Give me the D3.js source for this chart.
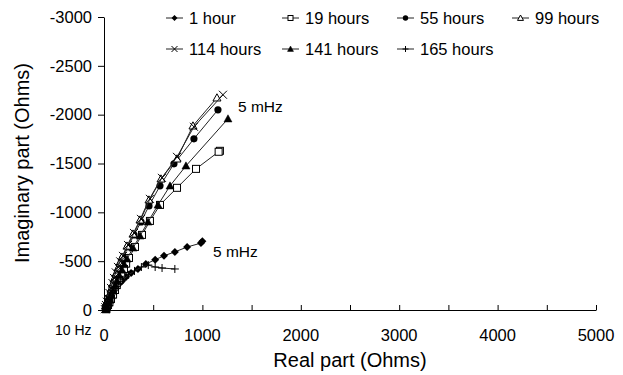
<!DOCTYPE html>
<html>
<head>
<meta charset="utf-8">
<script src="https://cdn.jsdelivr.net/npm/d3@7"></script>
<style>
  body { margin: 0; background: #fff; }
  svg text { font-family: "Liberation Sans", Arial, sans-serif; fill: #000; }
</style>
</head>
<body>
<svg id="chart" width="623" height="375"></svg>
<script>
// Nyquist data: [real, imaginary] in Ohms
var hour1 = [[1000,-705],[985,-685],[845,-645],[720,-595],[610,-555],[520,-515],[425,-470],[345,-420],[275,-380],[225,-340],[185,-300],[160,-278],[140,-255],[125,-235],[110,-215],[95,-195],[80,-175],[70,-155],[60,-135],[50,-112],[40,-90],[30,-70],[22,-50],[15,-30],[10,-12]];
var hour19 = [[1178,-1630],[1165,-1620],[935,-1445],[742,-1251],[569,-1076],[467,-912],[386,-769],[315,-646],[254,-533],[225,-475],[203,-420],[175,-362],[152,-308],[130,-255],[112,-205],[92,-158],[71,-113],[55,-80],[41,-51],[30,-28],[22,-8]];
var hour55 = [[1158,-2050],[914,-1753],[711,-1497],[569,-1271],[457,-1066],[376,-902],[305,-769],[244,-646],[193,-533],[172,-476],[152,-420],[132,-365],[112,-308],[96,-255],[81,-205],[66,-160],[51,-113],[40,-80],[30,-51],[22,-25],[18,-6]];
var hour99 = [[1148,-2173],[904,-1886],[742,-1548],[579,-1343],[457,-1128],[366,-923],[295,-779],[234,-656],[183,-543],[162,-487],[142,-431],[122,-375],[102,-318],[86,-265],[71,-215],[60,-168],[51,-123],[40,-85],[30,-51],[23,-28],[20,-8]];
var hour114 = [[1209,-2204],[914,-1876],[742,-1568],[589,-1353],[467,-1138],[376,-933],[305,-789],[244,-666],[193,-554],[165,-498],[142,-441],[120,-385],[102,-328],[86,-276],[71,-226],[55,-175],[41,-123],[30,-85],[20,-51],[14,-28],[10,-8]];
var hour141 = [[1260,-1958],[833,-1476],[671,-1271],[549,-1076],[447,-902],[366,-759],[295,-636],[234,-523],[206,-466],[183,-410],[157,-352],[132,-297],[110,-245],[91,-195],[75,-148],[61,-103],[45,-70],[30,-41],[24,-22],[20,-6]];
var hour165 = [[720,-420],[590,-430],[520,-440],[450,-460],[380,-440],[310,-400],[250,-360],[195,-310],[170,-288],[150,-265],[130,-242],[115,-220],[100,-198],[85,-175],[72,-152],[60,-130],[50,-108],[40,-85],[32,-65],[25,-45],[18,-28],[15,-12]];

var seriesNames = ["1 hour", "19 hours", "55 hours", "99 hours", "114 hours", "141 hours", "165 hours"];
var seriesData = [hour1, hour19, hour55, hour99, hour114, hour141, hour165];
var seriesMarkers = ["diamond", "square", "circle", "triangleOpen", "times", "triangle", "plus"];

var xTicks = [0, 500, 1000, 1500, 2000, 2500, 3000, 3500, 4000, 4500, 5000];
var xLabels = [0, 1000, 2000, 3000, 4000, 5000];
var yTicks = [0, -500, -1000, -1500, -2000, -2500, -3000];

var svg = d3.select("#chart");
var plotLeft = 104, plotRight = 596, plotTop = 17, plotBottom = 310;

var x = d3.scaleLinear().domain([0, 5000]).range([plotLeft, plotRight]);
var y = d3.scaleLinear().domain([0, -3000]).range([plotBottom, plotTop]);

// axes
var xAxis = d3.axisBottom(x).tickValues(xTicks).tickSizeInner(-5).tickSizeOuter(0).tickFormat("");
svg.append("g").attr("transform", `translate(0,${plotBottom})`).call(xAxis)
  .call(g => g.selectAll("line,path").attr("stroke", "#000"));

svg.append("g").selectAll("text").data(xLabels).enter().append("text")
  .attr("x", d => x(d)).attr("y", plotBottom + 31)
  .attr("text-anchor", "middle").attr("font-size", 16.5).text(d => d);

var yAxis = d3.axisLeft(y).tickValues(yTicks).tickSizeInner(6).tickSizeOuter(0).tickPadding(6)
  .tickFormat(d => String(d));
svg.append("g").attr("transform", `translate(${plotLeft},0)`).call(yAxis)
  .call(g => g.selectAll("line,path").attr("stroke", "#000"))
  .call(g => g.selectAll("text").attr("font-size", 16.5).attr("font-family", "Liberation Sans, Arial, sans-serif"));

// axis titles
svg.append("text").attr("x", 350).attr("y", 367).attr("text-anchor", "middle")
  .attr("font-size", 20).text("Real part (Ohms)");
svg.append("text").attr("transform", "translate(29,163) rotate(-90)").attr("text-anchor", "middle")
  .attr("font-size", 20).text("Imaginary part (Ohms)");

// marker drawing
function marker(sel, type, s) {
  var r = s / 2;
  if (type === "diamond") {
    sel.append("path").attr("d", `M0,${-r}L${r},0L0,${r}L${-r},0Z`).attr("fill", "#000");
  } else if (type === "square") {
    sel.append("rect").attr("x", -r + 0.5).attr("y", -r + 0.5).attr("width", s - 1).attr("height", s - 1)
      .attr("fill", "#fff").attr("stroke", "#000").attr("stroke-width", 1);
  } else if (type === "circle") {
    sel.append("circle").attr("r", r * 0.9).attr("fill", "#000");
  } else if (type === "triangle" || type === "triangleOpen") {
    var open = type === "triangleOpen";
    sel.append("path").attr("d", `M0,${-r}L${r},${r * 0.8}L${-r},${r * 0.8}Z`)
      .attr("fill", open ? "#fff" : "#000").attr("stroke", "#000").attr("stroke-width", open ? 1 : 0.5);
  } else if (type === "times") {
    sel.append("path").attr("d", `M${-r},${-r}L${r},${r}M${-r},${r}L${r},${-r}`)
      .attr("stroke", "#000").attr("stroke-width", 1).attr("fill", "none");
  } else if (type === "plus") {
    sel.append("path").attr("d", `M${-r},0L${r},0M0,${-r}L0,${r}`)
      .attr("stroke", "#000").attr("stroke-width", 1).attr("fill", "none");
  }
}

var line = d3.line().x(d => x(d[0])).y(d => y(d[1]));

seriesData.forEach(function(data, i) {
  var g = svg.append("g");
  g.append("path").datum(data).attr("d", line)
    .attr("fill", "none").attr("stroke", "#222").attr("stroke-width", 1);
  g.selectAll("g.pt").data(data).enter().append("g").attr("class", "pt")
    .attr("transform", d => `translate(${x(d[0])},${y(d[1])})`)
    .each(function() { marker(d3.select(this), seriesMarkers[i], 8); });
});

// annotations
svg.append("text").attr("x", 238).attr("y", 112).attr("font-size", 15.5).text("5 mHz");
svg.append("text").attr("x", 213).attr("y", 257).attr("font-size", 15.5).text("5 mHz");
svg.append("text").attr("x", 55).attr("y", 335).attr("font-size", 14).text("10 Hz");

// legend
var legCols = [166, 282, 397, 512];
var legRows = [18, 49];
seriesNames.forEach(function(name, i) {
  var cx = legCols[i % 4], cy = legRows[Math.floor(i / 4)];
  var g = svg.append("g").attr("transform", `translate(${cx},${cy})`);
  g.append("line").attr("x1", 0).attr("x2", 17).attr("y1", 0).attr("y2", 0)
    .attr("stroke", "#222").attr("stroke-width", 1);
  marker(g.append("g").attr("transform", "translate(8.5,0)"), seriesMarkers[i], 6);
  g.append("text").attr("x", 23).attr("y", 6).attr("font-size", 16.5).text(name);
});
</script>
</body>
</html>
